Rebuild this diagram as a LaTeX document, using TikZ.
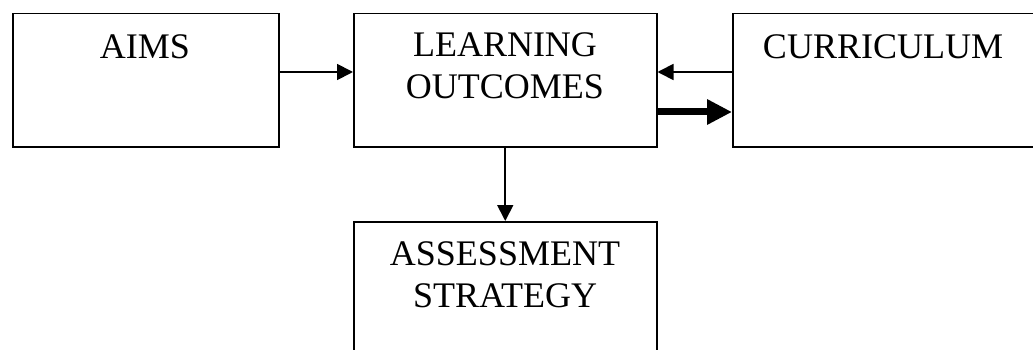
\documentclass[tikz,border=0pt]{standalone}
\usepackage{fontspec}
\setmainfont{Liberation Serif}
\usetikzlibrary{arrows.meta}
\begin{document}
\begin{tikzpicture}[x=1pt,y=-1pt,
  boxnode/.style={draw,line width=1.5pt,rectangle,inner sep=0pt,anchor=north west},
  boxtext/.style={font=\fontsize{36}{42}\selectfont,align=center,anchor=north,inner sep=0pt},
  thinarrow/.style={line width=1.8pt,-{Triangle[length=16pt,width=16pt]}},
  thickarrow/.style={line width=7pt,-{Triangle[length=25pt,width=24pt]}}]
\useasboundingbox (0,0) rectangle (1033,350);
\node[boxnode,minimum width=266pt,minimum height=133pt] (aims) at (12,13) {};
\node[boxnode,minimum width=303pt,minimum height=133pt] (lo) at (353,13) {};
\node[boxnode,minimum width=304pt,minimum height=133pt] (cur) at (732,13) {};
\node[boxnode,minimum width=303pt,minimum height=150pt] (as) at (353,221) {};
\node[boxtext] (aimst) at (145,34) {AIMS};
\node[boxtext] (lot) at (505,32) {LEARNING\\OUTCOMES};
\node[boxtext] (curt) at (883,34) {CURRICULUM};
\node[boxtext] (ast) at (505,241) {ASSESSMENT\\STRATEGY};
\draw[thinarrow] (aims.east |- 0,72) -- (lo.west |- 0,72);
\draw[thinarrow] (cur.west |- 0,72) -- (lo.east |- 0,72);
\draw[thickarrow] (lo.east |- 0,112) -- (cur.west |- 0,112);
\draw[thinarrow] (lo.south) -- (as.north);
\end{tikzpicture}
\end{document}
